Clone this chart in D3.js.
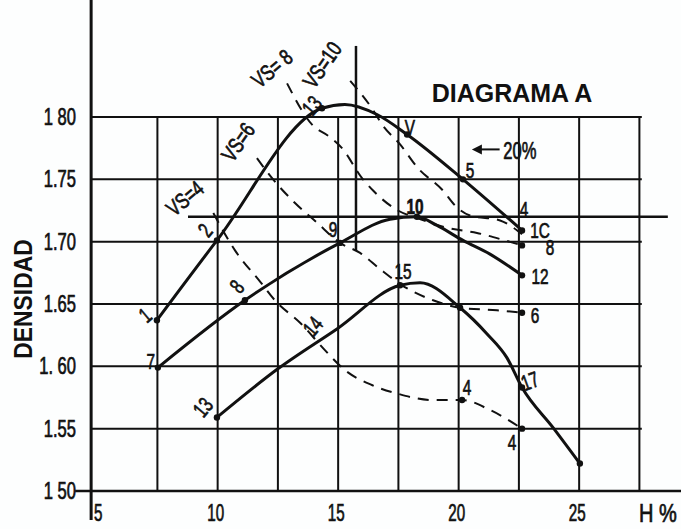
<!DOCTYPE html>
<html>
<head>
<meta charset="utf-8">
<script src="https://cdn.jsdelivr.net/npm/d3@7"></script>
<style>
  body { margin: 0; background: #fdfefe; }
  svg { display: block; }
  text { font-family: "Liberation Sans", Arial, sans-serif; fill: #111; }
  text.hand { stroke: #111; stroke-width: 0.7px; }
</style>
</head>
<body>
<div id="chart"></div>
<script>
// ---- data (H %, density) ----
const xTicks = [5, 10, 15, 20, 25];
const xGrid = [7.5, 10, 12.5, 15, 17.5, 20, 22.5, 25, 27.5];
const yTicks = [1.50, 1.55, 1.60, 1.65, 1.70, 1.75, 1.80];
const yTickLabels = ["1 50", "1.55", "1. 60", "1.65", "1.70", "1.75", "1 80"];

// compaction curves (solid)
const topCurve = [[7.48,1.637],[9.97,1.701],[14.33,1.807],[15.28,1.810],[16.61,1.802],[17.86,1.786],[20.18,1.750],[22.63,1.709]];
const midCurve = [[7.52,1.599],[11.13,1.653],[15.08,1.699],[17.15,1.718],[18.27,1.720],[19.1,1.713],[20.18,1.701],[21.3,1.690],[22.63,1.673]];
const lowCurve = [[9.97,1.559],[12.5,1.598],[14.95,1.630],[17.57,1.665],[18.4,1.667],[20.06,1.647],[21.18,1.626],[22.0,1.607],[22.63,1.583],[23.91,1.551],[25.03,1.522]];

// VS lines (dashed)
const vs4 = [[9.82,1.723],[10.72,1.693],[11.76,1.668],[12.42,1.652],[13.42,1.635],[14.45,1.613],[15.28,1.597],[16.4,1.585],[17.48,1.578],[18.89,1.573],[20.14,1.573],[21.3,1.565],[22.63,1.550]];
const vs6 = [[11.63,1.767],[12.09,1.755],[13.21,1.731],[14.08,1.716],[15.08,1.699],[15.91,1.691],[16.74,1.678],[17.65,1.665],[18.94,1.653],[20.06,1.647],[21.59,1.645],[22.63,1.643]];
const vs8 = [[12.88,1.827],[13.96,1.793],[14.58,1.785],[15.16,1.775],[15.99,1.751],[16.45,1.741],[17.48,1.725],[18.27,1.719],[19.56,1.711],[20.76,1.707],[21.92,1.701],[22.63,1.697]];
const vs10 = [[15.5,1.829],[16.4,1.807],[16.86,1.793],[17.57,1.778],[18.31,1.759],[19.35,1.741],[19.85,1.729],[20.47,1.721],[21.72,1.717],[22.63,1.706]];

// plotted points
const markers = [[7.48,1.637],[9.97,1.701],[14.33,1.807],[17.86,1.786],[20.18,1.750],[22.63,1.709],
  [7.52,1.599],[11.13,1.653],[15.08,1.699],[18.27,1.720],[22.63,1.673],
  [9.97,1.559],[17.57,1.665],[20.06,1.647],[22.63,1.583],[25.03,1.522],
  [20.14,1.573],[22.63,1.550],[22.63,1.643],[22.63,1.697]];

// reference lines: 1.72 density and the optimum-moisture vertical
const refDensity = [8.77, 28.68, 1.72];
const refMoisture = [15.74, 1.693, 1.857];

// point numbers: text, H, density, angle
const pointNotes = [
  ["1", 6.99, 1.641, -40], ["2", 9.48, 1.709, -50], ["13", 13.91, 1.809, -50],
  ["V", 17.98, 1.792, 0], ["5", 20.47, 1.757, 0], ["4", 22.71, 1.726, 0],
  ["1C", 23.38, 1.709, 0], ["8", 23.79, 1.695, 0],
  ["7", 7.23, 1.604, 0], ["8", 10.8, 1.664, -50], ["9", 14.79, 1.710, 0],
  ["10", 18.19, 1.728, 0],
  ["12", 23.38, 1.672, 0], ["6", 23.17, 1.641, 0],
  ["13", 9.39, 1.567, -50], ["14", 13.96, 1.632, -50], ["15", 17.69, 1.676, 0],
  ["17", 22.96, 1.588, -20], ["4", 20.35, 1.583, 0], ["4", 22.22, 1.539, 0]
];
const vsNotes = [
  ["VS=4", 8.64, 1.735, -40], ["VS=6", 10.84, 1.780, -55],
  ["VS= 8", 12.25, 1.839, -40], ["VS=10", 14.33, 1.842, -55]
];

const width = 681, height = 529;
const svg = d3.select("#chart").append("svg").attr("width", width).attr("height", height);

const x = d3.scaleLinear().domain([7.5, 27.5]).range([157.4, 639.4]);
const y = d3.scaleLinear().domain([1.5, 1.8]).range([491, 117]);
const xStart = 4.75;

const ink = "#111";
const g = svg.append("g");

// grid
g.selectAll(".hgrid").data(yTicks.slice(1)).enter().append("line")
  .attr("x1", x(xStart)).attr("x2", x(27.6))
  .attr("y1", d => y(d)).attr("y2", d => y(d))
  .attr("stroke", ink).attr("stroke-width", 2);
g.selectAll(".vgrid").data(xGrid).enter().append("line")
  .attr("x1", d => x(d)).attr("x2", d => x(d))
  .attr("y1", y(1.8)).attr("y2", y(1.5))
  .attr("stroke", ink).attr("stroke-width", 2);

// axes
g.append("line").attr("x1", x(xStart)).attr("x2", x(xStart))
  .attr("y1", 0).attr("y2", y(1.5) + 29).attr("stroke", ink).attr("stroke-width", 3);
g.append("line").attr("x1", x(xStart) - 16).attr("x2", width)
  .attr("y1", y(1.5)).attr("y2", y(1.5)).attr("stroke", ink).attr("stroke-width", 2.5);

// reference lines
g.append("line").attr("x1", x(refDensity[0])).attr("x2", x(refDensity[1]))
  .attr("y1", y(refDensity[2])).attr("y2", y(refDensity[2]))
  .attr("stroke", ink).attr("stroke-width", 2.5);
g.append("line").attr("x1", x(refMoisture[0])).attr("x2", x(refMoisture[0]))
  .attr("y1", y(refMoisture[1])).attr("y2", y(refMoisture[2]))
  .attr("stroke", ink).attr("stroke-width", 2.5);

const line = d3.line().x(d => x(d[0])).y(d => y(d[1])).curve(d3.curveMonotoneX);

[vs4, vs6, vs8, vs10].forEach(s => {
  g.append("path").attr("d", line(s)).attr("fill", "none")
    .attr("stroke", ink).attr("stroke-width", 2).attr("stroke-dasharray", "11,8");
});
[topCurve, midCurve, lowCurve].forEach(s => {
  g.append("path").attr("d", line(s)).attr("fill", "none")
    .attr("stroke", ink).attr("stroke-width", 3).attr("stroke-linejoin", "round");
});

g.selectAll(".pt").data(markers).enter().append("circle")
  .attr("cx", d => x(d[0])).attr("cy", d => y(d[1])).attr("r", 3.2).attr("fill", ink);

// text helper (condensed look via horizontal scale)
function txt(t, px, py, size, rot, sx, anchor, weight, cls) {
  return g.append("text")
    .attr("class", cls || null)
    .attr("transform", `translate(${px},${py}) rotate(${rot}) scale(${sx},1)`)
    .attr("text-anchor", anchor || "middle")
    .attr("dominant-baseline", "central")
    .style("font-size", size + "px")
    .style("font-weight", weight || "normal")
    .text(t);
}

// tick labels
yTicks.forEach((v, i) => txt(yTickLabels[i], 76, y(v), 23, 0, 0.72, "end", "normal", "hand"));
xTicks.forEach(v => txt(String(v), x(v) + (v === 5 ? 1 : -2), 513, 23, 0, 0.66, "middle", "normal", "hand"));

pointNotes.forEach(n => txt(n[0], x(n[1]), y(n[2]), 22, n[3], 0.7, "middle",
  n[0] === "10" ? "bold" : "normal", "hand"));
vsNotes.forEach(n => txt(n[0], x(n[1]), y(n[2]), 22, n[3], 0.75, "middle", "normal", "hand"));

// titles
txt("DIAGRAMA A", 512, 93, 25, 0, 1, "middle", "bold");
txt("DENSIDAD", 23, 299, 26, -90, 0.88, "middle", "bold");
txt("H %", 658, 514, 25, 0, 0.8, "middle", "normal", "hand");

// "20 %" pointer
g.append("line").attr("x1", x(20.7)).attr("x2", x(21.7))
  .attr("y1", y(1.774)).attr("y2", y(1.774)).attr("stroke", ink).attr("stroke-width", 2);
g.append("path")
  .attr("d", `M${x(20.55)},${y(1.774)} l10,-5 l0,10 z`).attr("fill", ink);
txt("20%", x(21.85), y(1.773), 23, 0, 0.72, "start", "normal", "hand");
</script>
</body>
</html>
